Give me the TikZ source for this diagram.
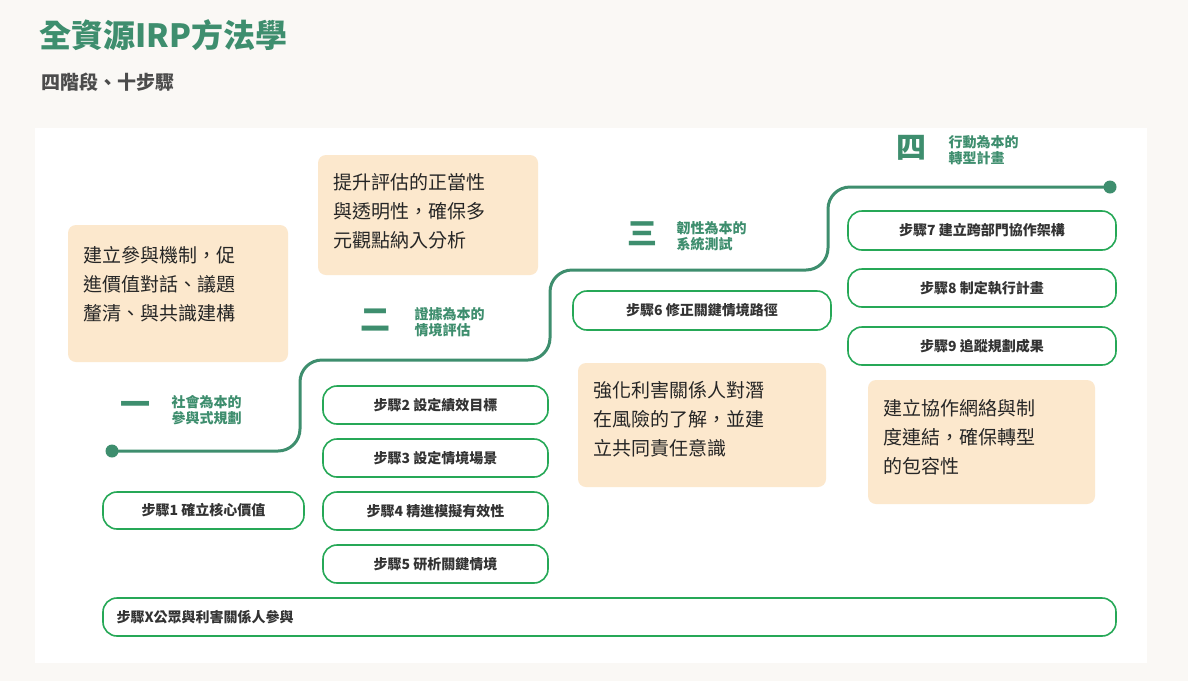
\documentclass[tikz,border=0pt]{standalone}
\usepackage{fontspec}
\setmainfont{Noto Sans CJK TC}
\begin{document}
\begin{tikzpicture}[x=1pt,y=-1pt,
  pill/.style={draw=green!45!teal!70!gray,line width=1.6pt,rounded corners=14pt,fill=white},
  note/.style={fill=orange!18!white,rounded corners=8pt},
  stg/.style={text=gcol,font=\bfseries\fontsize{14}{16}\selectfont,align=left,anchor=west},
  big/.style={text=gcol,font=\bfseries\fontsize{30}{30}\selectfont},
  ptxt/.style={font=\bfseries\fontsize{14}{16}\selectfont,text=black!80},
  ntxt/.style={font=\fontsize{19}{29}\selectfont,align=left,anchor=north west,text=black!85}]
\definecolor{gcol}{HTML}{3E8E6E}
\definecolor{bgc}{HTML}{FAF8F5}
\definecolor{notec}{HTML}{FCE8CD}
\fill[bgc] (0,0) rectangle (1188,681);
\fill[white] (35,128) rectangle (1147,663);
\node[anchor=west,text=gcol,font=\bfseries\fontsize{32}{34}\selectfont] (title) at (36,35) {全資源IRP方法學};
\node[anchor=west,text=black!70,font=\bfseries\fontsize{19}{22}\selectfont] (sub) at (38,82) {四階段、十步驟};
% staircase
\coordinate (s0) at (112,451);
\coordinate (s1) at (1110,187);
\draw[gcol,line width=3pt,rounded corners=22pt] (s0) -- (300,451) -- (300,360) -- (550,360) -- (550,270) -- (828,270) -- (828,187) -- (s1);
\fill[gcol] (s0) circle (6.5pt);
\fill[gcol] (s1) circle (6.5pt);
% notes
\fill[notec,rounded corners=8pt] (68,225) rectangle (288,362);
\node[ntxt] (n1) at (80,243) {建立參與機制，促\\進價值對話、議題\\釐清、與共識建構};
\fill[notec,rounded corners=8pt] (318,155) rectangle (538,275);
\node[ntxt] (n2) at (330,170) {提升評估的正當性\\與透明性，確保多\\元觀點納入分析};
\fill[notec,rounded corners=8pt] (578,363) rectangle (826,487);
\node[ntxt] (n3) at (590,378) {強化利害關係人對潛\\在風險的了解，並建\\立共同責任意識};
\fill[notec,rounded corners=8pt] (868,380) rectangle (1095,504);
\node[ntxt] (n4) at (880,396) {建立協作網絡與制\\度連結，確保轉型\\的包容性};
% stages
\node[big] (g1) at (135,408) {一};
\node[stg] (l1) at (168,410) {社會為本的\\參與式規劃};
\node[big] (g2) at (375,320) {二};
\node[stg] (l2) at (411,322) {證據為本的\\情境評估};
\node[big] (g3) at (642,234) {三};
\node[stg] (l3) at (673,236) {韌性為本的\\系統測試};
\node[big] (g4) at (911,148) {四};
\node[stg] (l4) at (945,150) {行動為本的\\轉型計畫};
% pills
\draw[pill] (103,492) rectangle (304,529); \node[ptxt] (p1) at (203.5,510.5) {步驟1 確立核心價值};
\draw[pill] (323,386) rectangle (548,424); \node[ptxt] (p2) at (435.5,405) {步驟2 設定績效目標};
\draw[pill] (323,439) rectangle (548,477); \node[ptxt] (p3) at (435.5,458) {步驟3 設定情境場景};
\draw[pill] (323,492) rectangle (548,530); \node[ptxt] (p4) at (435.5,511) {步驟4 精進模擬有效性};
\draw[pill] (323,545) rectangle (548,583); \node[ptxt] (p5) at (435.5,564) {步驟5 研析關鍵情境};
\draw[pill] (573,291) rectangle (831,330); \node[ptxt] (p6) at (702,310.5) {步驟6 修正關鍵情境路徑};
\draw[pill] (848,211) rectangle (1116,250); \node[ptxt] (p7) at (982,230.5) {步驟7 建立跨部門協作架構};
\draw[pill] (848,269) rectangle (1116,307); \node[ptxt] (p8) at (982,288) {步驟8 制定執行計畫};
\draw[pill] (848,327) rectangle (1116,365); \node[ptxt] (p9) at (982,346) {步驟9 追蹤規劃成果};
\draw[pill] (103,598) rectangle (1116,636); \node[ptxt,anchor=west] (px) at (113,617) {步驟X公眾與利害關係人參與};
\end{tikzpicture}
\end{document}
